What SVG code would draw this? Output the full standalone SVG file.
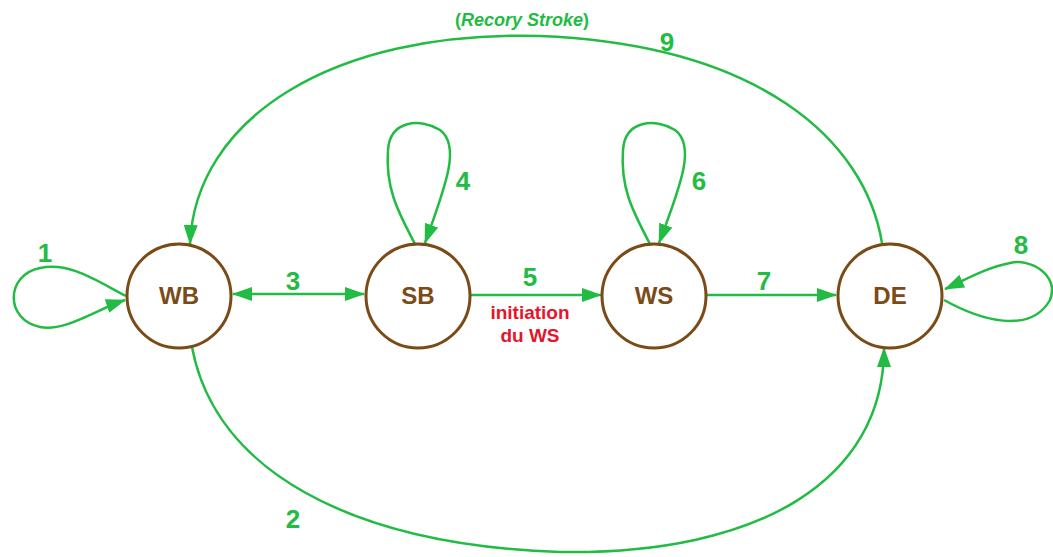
<svg xmlns="http://www.w3.org/2000/svg" width="1053" height="557" viewBox="0 0 1053 557">
<style>
.node{fill:#fff;stroke:#7a4b16;stroke-width:3}
.nl{font-family:"Liberation Sans",Arial,sans-serif;font-weight:bold;font-size:24px;fill:#7a4b16;text-anchor:middle}
.e{fill:none;stroke:#22bb44;stroke-width:2.5}
.num{font-family:"Liberation Sans",Arial,sans-serif;font-weight:bold;font-size:26px;fill:#22bb44;text-anchor:middle}
.red{font-family:"Liberation Sans",Arial,sans-serif;font-weight:bold;font-size:19px;fill:#e5152b;text-anchor:middle}
.gt{font-family:"Liberation Sans",Arial,sans-serif;font-weight:bold;font-size:18px;fill:#22bb44;text-anchor:middle}
</style>
<defs>
<marker id="ah" markerUnits="userSpaceOnUse" markerWidth="20" markerHeight="14" refX="19" refY="7" orient="auto-start-reverse">
<path d="M0,0 L20,7 L0,14 Z" fill="#22bb44"/>
</marker>
</defs>
<g id="connectors">
<path id="e1" class="e" d="M126,296 C95,280 70,262 40,268 C5,275 5,320 40,327 C65,332 95,310 125,300" marker-end="url(#ah)"/>
<path id="e2" class="e" d="M192,347 C215,470 350,545 560,552 C760,555 884,480 884,348" marker-end="url(#ah)"/>
<path id="e3" class="e" d="M233,294 L364,294" marker-start="url(#ah)" marker-end="url(#ah)"/>
<path id="e4" class="e" d="M415,244 C400,215 385,190 388,150 C390,120 420,118 440,130 C460,145 448,180 425,243" marker-end="url(#ah)"/>
<path id="e5" class="e" d="M471,295 L601,295" marker-end="url(#ah)"/>
<path id="e6" class="e" d="M650,244 C635,215 620,190 623,150 C625,120 655,118 675,130 C695,145 683,180 659,243" marker-end="url(#ah)"/>
<path id="e7" class="e" d="M707,295 L836,295" marker-end="url(#ah)"/>
<path id="e8" class="e" d="M944,300 C980,320 1030,335 1050,300 C1060,275 1030,258 1010,263 C985,268 965,280 945,289" marker-end="url(#ah)"/>
<path id="e9" class="e" d="M882,243 C865,140 760,45 540,36 C330,30 195,120 190,244" marker-end="url(#ah)"/>
<text class="num" x="45" y="262">1</text>
<text class="num" x="293" y="528">2</text>
<text class="num" x="293" y="290">3</text>
<text class="num" x="463" y="190">4</text>
<text class="num" x="530" y="286">5</text>
<text class="num" x="699" y="190">6</text>
<text class="num" x="764" y="290">7</text>
<text class="num" x="1021" y="254">8</text>
<text class="num" x="667" y="51">9</text>
<text class="gt" x="522" y="26">(<tspan font-style="italic">Recory Stroke</tspan>)</text>
<text class="red" x="530" y="319">initiation</text>
<text class="red" x="530" y="342">du WS</text>
</g>
<g id="WB"><circle class="node" cx="179" cy="296" r="52"/><text class="nl" x="179" y="304">WB</text></g>
<g id="SB"><circle class="node" cx="418" cy="296" r="52"/><text class="nl" x="418" y="304">SB</text></g>
<g id="WS"><circle class="node" cx="654" cy="296" r="52"/><text class="nl" x="654" y="304">WS</text></g>
<g id="DE"><circle class="node" cx="890" cy="296" r="52"/><text class="nl" x="890" y="304">DE</text></g>
</svg>
